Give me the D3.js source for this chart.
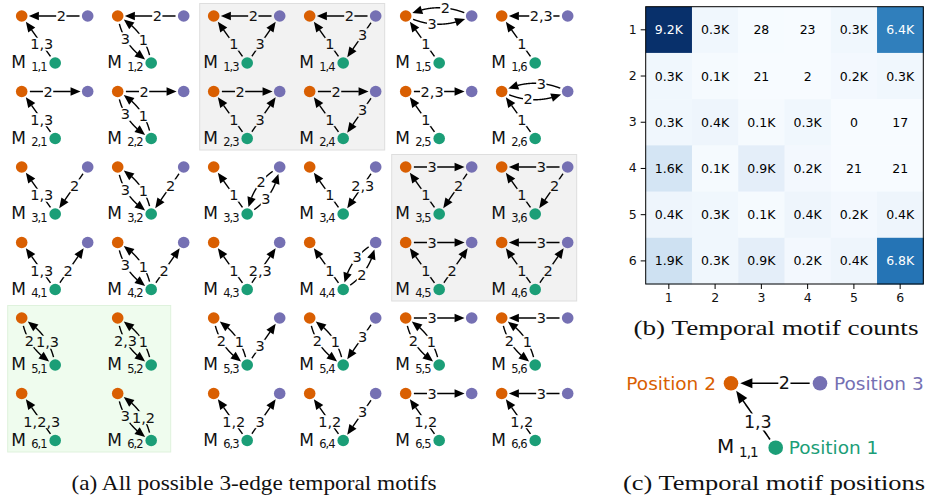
<!DOCTYPE html>
<html>
<head>
<meta charset="utf-8">
<script src="https://cdn.jsdelivr.net/npm/d3@7"></script>
<style>
  body { margin: 0; background: #fff; }
  svg { display: block; }
</style>
</head>
<body>
<svg id="fig" width="933" height="499"></svg>
<script>
/*
Motif grid data. Node 1 = green (bottom), 2 = orange (top left), 3 = purple (top right).
Each edge is [from, to, edge times].
*/
const motifRows = [1, 2, 3, 4, 5, 6];
const motifCols = [1, 2, 3, 4, 5, 6];
const motifEdges = [
  // row 1
  [[1, 2, "1,3"], [3, 2, "2"]],
  [[1, 2, "1"], [2, 1, "3"], [3, 2, "2"]],
  [[1, 2, "1"], [3, 2, "2"], [1, 3, "3"]],
  [[1, 2, "1"], [3, 2, "2"], [3, 1, "3"]],
  [[1, 2, "1"], [3, 2, "2"], [2, 3, "3"]],
  [[1, 2, "1"], [3, 2, "2,3"]],
  // row 2
  [[1, 2, "1,3"], [2, 3, "2"]],
  [[1, 2, "1"], [2, 1, "3"], [2, 3, "2"]],
  [[1, 2, "1"], [2, 3, "2"], [1, 3, "3"]],
  [[1, 2, "1"], [2, 3, "2"], [3, 1, "3"]],
  [[1, 2, "1"], [2, 3, "2,3"]],
  [[1, 2, "1"], [2, 3, "2"], [3, 2, "3"]],
  // row 3
  [[1, 2, "1,3"], [3, 1, "2"]],
  [[1, 2, "1"], [2, 1, "3"], [3, 1, "2"]],
  [[1, 2, "1"], [3, 1, "2"], [1, 3, "3"]],
  [[1, 2, "1"], [3, 1, "2,3"]],
  [[1, 2, "1"], [3, 1, "2"], [2, 3, "3"]],
  [[1, 2, "1"], [3, 1, "2"], [3, 2, "3"]],
  // row 4
  [[1, 2, "1,3"], [1, 3, "2"]],
  [[1, 2, "1"], [2, 1, "3"], [1, 3, "2"]],
  [[1, 2, "1"], [1, 3, "2,3"]],
  [[1, 2, "1"], [1, 3, "2"], [3, 1, "3"]],
  [[1, 2, "1"], [1, 3, "2"], [2, 3, "3"]],
  [[1, 2, "1"], [1, 3, "2"], [3, 2, "3"]],
  // row 5
  [[1, 2, "1,3"], [2, 1, "2"]],
  [[1, 2, "1"], [2, 1, "2,3"]],
  [[1, 2, "1"], [2, 1, "2"], [1, 3, "3"]],
  [[1, 2, "1"], [2, 1, "2"], [3, 1, "3"]],
  [[1, 2, "1"], [2, 1, "2"], [2, 3, "3"]],
  [[1, 2, "1"], [2, 1, "2"], [3, 2, "3"]],
  // row 6
  [[1, 2, "1,2,3"]],
  [[1, 2, "1,2"], [2, 1, "3"]],
  [[1, 2, "1,2"], [1, 3, "3"]],
  [[1, 2, "1,2"], [3, 1, "3"]],
  [[1, 2, "1,2"], [2, 3, "3"]],
  [[1, 2, "1,2"], [3, 2, "3"]]
];

// shaded blocks of the grid
const shadedGroups = [
  { rows: [1, 2], cols: [3, 4], kind: "gray" },
  { rows: [3, 4], cols: [5, 6], kind: "gray" },
  { rows: [5, 6], cols: [1, 2], kind: "green" }
];

// heatmap data
const heatRows = [1, 2, 3, 4, 5, 6];
const heatCols = [1, 2, 3, 4, 5, 6];
const motifCounts = [
  [9200, 300, 28, 23, 300, 6400],
  [300, 100, 21, 2, 200, 300],
  [300, 400, 100, 300, 0, 17],
  [1600, 100, 900, 200, 21, 21],
  [400, 300, 100, 400, 200, 400],
  [1900, 300, 900, 200, 400, 6800]
];

// position panel
const positionEdges = [[1, 2, "1,3"], [3, 2, "2"]];
const positionNames = ["Position 1", "Position 2", "Position 3"];

const captions = [
  "(a) All possible 3-edge temporal motifs",
  "(b) Temporal motif counts",
  "(c) Temporal motif positions"
];

/*
Styles
*/
var nodeColor = { 1: "#1b9e77", 2: "#d95f02", 3: "#7570b3" };
var panelFill = { gray: "#f2f2f2", green: "#effcee" };
var panelStroke = { gray: "#dedede", green: "#dff2dd" };
var sansFont = "DejaVu Sans, sans-serif";
var serifFont = "Liberation Serif, DejaVu Serif, serif";

var gridOpts = { dx: 66, gx: 33.5, gy: 47, r: 5.8, shrinkSrc: 8, shrinkTip: 7, headL: 10, headW: 4.3, font: 14.5, lw: 1.4, rad: 0.25 };
var bigOpts = { dx: 89, gx: 44.7, gy: 64.4, r: 7.3, shrinkSrc: 10, shrinkTip: 9, headL: 12, headW: 5, font: 17.5, lw: 1.6, rad: 0.3 };

const svg = d3.select("#fig");

/*
Draw one motif with orange node at (ox, oy)
*/
function drawMotif(g, ox, oy, edges, o, bg) {
  const pos = {
    1: [ox + o.gx, oy + o.gy],
    2: [ox, oy],
    3: [ox + o.dx, oy]
  };
  const used = new Set();
  edges.forEach((e) => { used.add(e[0]); used.add(e[1]); });

  const lineGen = d3.line();
  const edgeLayer = g.append("g");
  const labelLayer = g.append("g");

  edges.forEach((e) => {
    const p1 = pos[e[0]], p2 = pos[e[1]];
    const twoWay = edges.some((f) => f[0] === e[1] && f[1] === e[0]);
    const rad = twoWay ? o.rad : 0;
    const dx = p2[0] - p1[0], dy = p2[1] - p1[1];
    const c = [(p1[0] + p2[0]) / 2 - rad * dy, (p1[1] + p2[1]) / 2 + rad * dx];
    const B = (t) => [
      (1 - t) * (1 - t) * p1[0] + 2 * (1 - t) * t * c[0] + t * t * p2[0],
      (1 - t) * (1 - t) * p1[1] + 2 * (1 - t) * t * c[1] + t * t * p2[1]
    ];
    const pts = d3.range(0, 1.0001, 0.004).map(B);
    const dist = (a, b) => Math.hypot(a[0] - b[0], a[1] - b[1]);
    let i0 = pts.findIndex((p) => dist(p, p1) >= o.shrinkSrc);
    let i1 = pts.length - 1;
    while (i1 > 0 && dist(pts[i1], p2) < o.shrinkTip) i1--;
    const tip = pts[i1];
    let ib = i1;
    while (ib > i0 && dist(pts[ib], tip) < o.headL) ib--;
    const base = pts[ib];
    const L = dist(tip, base);
    const u = [(tip[0] - base[0]) / L, (tip[1] - base[1]) / L];
    const n = [-u[1], u[0]];

    edgeLayer.append("path")
      .attr("d", lineGen(pts.slice(i0, ib + 2)))
      .attr("fill", "none")
      .attr("stroke", "black")
      .attr("stroke-width", o.lw);

    edgeLayer.append("path")
      .attr("d", "M" + tip + "L" + [base[0] + n[0] * o.headW, base[1] + n[1] * o.headW] +
        "L" + [base[0] - n[0] * o.headW, base[1] - n[1] * o.headW] + "Z")
      .attr("fill", "black");

    // label sits closer to the source end
    const lp = B(0.4);
    const lg = labelLayer.append("g");
    const txt = lg.append("text")
      .attr("x", lp[0])
      .attr("y", lp[1])
      .attr("text-anchor", "middle")
      .attr("dominant-baseline", "central")
      .attr("font-family", sansFont)
      .attr("font-size", o.font)
      .attr("fill", "#111")
      .text(e[2]);
    const bb = txt.node().getBBox();
    lg.insert("rect", "text")
      .attr("x", bb.x - 0.5)
      .attr("y", bb.y + 1.5)
      .attr("width", bb.width + 1)
      .attr("height", bb.height - 3)
      .attr("fill", bg);
  });

  g.append("g")
    .selectAll("circle")
    .data([1, 2, 3].filter((k) => used.has(k)))
    .enter()
    .append("circle")
    .attr("cx", (k) => pos[k][0])
    .attr("cy", (k) => pos[k][1])
    .attr("r", o.r)
    .attr("fill", (k) => nodeColor[k]);

  return pos;
}

function motifLabel(g, x, y, sub, big, small, subDx, subDy) {
  g.append("text")
    .attr("x", x).attr("y", y)
    .attr("font-family", sansFont)
    .attr("font-size", big)
    .attr("fill", "#111")
    .text("M");
  g.append("text")
    .attr("x", x + subDx).attr("y", y + subDy)
    .attr("font-family", sansFont)
    .attr("font-size", small)
    .attr("letter-spacing", -0.9)
    .attr("fill", "#111")
    .text(sub);
}

/*
(a) motif grid
*/
const colX = d3.scaleLinear().domain([1, 6]).range([21.7, 501.7]);
const rowY = d3.scaleLinear().domain([1, 6]).range([16, 393.5]);

const gridG = svg.append("g");

shadedGroups.forEach((s) => {
  const x0 = colX(s.cols[0]) - 14;
  const x1 = colX(s.cols[1]) + (s.kind === "gray" ? 75 : 53);
  const y0 = rowY(s.rows[0]) - 12.5;
  const y1 = rowY(s.rows[1]) + 58.5;
  gridG.append("rect")
    .attr("x", x0).attr("y", y0)
    .attr("width", x1 - x0).attr("height", y1 - y0)
    .attr("fill", panelFill[s.kind])
    .attr("stroke", panelStroke[s.kind])
    .attr("stroke-width", 1);
});

function bgFor(row, col) {
  const s = shadedGroups.find((s) =>
    row >= s.rows[0] && row <= s.rows[1] && col >= s.cols[0] && col <= s.cols[1]);
  return s ? panelFill[s.kind] : "#ffffff";
}

motifRows.forEach((row, ri) => {
  motifCols.forEach((col, ci) => {
    const edges = motifEdges[ri * motifCols.length + ci];
    const ox = colX(col), oy = rowY(row);
    const mg = gridG.append("g");
    motifLabel(mg, ox - 10.5, oy + 52, row + "," + col, 17, 11.5, 20, 2.5);
    drawMotif(mg, ox, oy, edges, gridOpts, bgFor(row, col));
  });
});

/*
(b) heatmap of motif counts
*/
const hx = d3.scaleBand().domain(heatCols).range([645.7, 923.3]);
const hy = d3.scaleBand().domain(heatRows).range([6.7, 284]);
const maxCount = d3.max(motifCounts.flat());
const heatColor = d3.scaleSequential(d3.interpolateBlues).domain([0, maxCount]);
const fmtK = (v) => (v >= 100 ? d3.format(".1f")(v / 1000) + "K" : String(v));

const cells = [];
heatRows.forEach((r, i) => heatCols.forEach((c, j) => cells.push({ r: r, c: c, v: motifCounts[i][j] })));

const heatG = svg.append("g");
heatG.selectAll("rect.cell")
  .data(cells)
  .enter()
  .append("rect")
  .attr("class", "cell")
  .attr("x", (d) => hx(d.c))
  .attr("y", (d) => hy(d.r))
  .attr("width", hx.bandwidth() + 0.5)
  .attr("height", hy.bandwidth() + 0.5)
  .attr("fill", (d) => heatColor(d.v));

heatG.selectAll("text.val")
  .data(cells)
  .enter()
  .append("text")
  .attr("class", "val")
  .attr("x", (d) => hx(d.c) + hx.bandwidth() / 2)
  .attr("y", (d) => hy(d.r) + hy.bandwidth() / 2)
  .attr("text-anchor", "middle")
  .attr("dominant-baseline", "central")
  .attr("font-family", sansFont)
  .attr("font-size", 12.5)
  .attr("fill", (d) => (d.v > maxCount * 0.5 ? "white" : "black"))
  .text((d) => fmtK(d.v));

heatG.append("rect")
  .attr("x", hx.range()[0]).attr("y", hy.range()[0])
  .attr("width", hx.range()[1] - hx.range()[0])
  .attr("height", hy.range()[1] - hy.range()[0])
  .attr("fill", "none")
  .attr("stroke", "black")
  .attr("stroke-width", 1);

const yAxisG = heatG.append("g")
  .attr("transform", "translate(" + hx.range()[0] + ",0)")
  .call(d3.axisLeft(hy).tickSize(5).tickPadding(4));
const xAxisG = heatG.append("g")
  .attr("transform", "translate(0," + hy.range()[1] + ")")
  .call(d3.axisBottom(hx).tickSize(5).tickPadding(4));
[yAxisG, xAxisG].forEach((a) => {
  a.select(".domain").remove();
  a.selectAll("text").attr("font-family", sansFont).attr("font-size", 12.5).attr("fill", "#111");
  a.selectAll("line").attr("stroke", "black");
});

/*
(c) motif positions
*/
const posG = svg.append("g");
const pp = drawMotif(posG, 731, 383.3, positionEdges, bigOpts, "#ffffff");
motifLabel(posG, 717, 453, "1,1", 20, 13.5, 22, 3.5);

posG.append("text")
  .attr("x", pp[2][0] - 15).attr("y", pp[2][1])
  .attr("text-anchor", "end").attr("dominant-baseline", "central")
  .attr("font-family", sansFont).attr("font-size", 18.5)
  .attr("fill", nodeColor[2])
  .text(positionNames[1]);
posG.append("text")
  .attr("x", pp[3][0] + 14).attr("y", pp[3][1])
  .attr("dominant-baseline", "central")
  .attr("font-family", sansFont).attr("font-size", 18.5)
  .attr("fill", nodeColor[3])
  .text(positionNames[2]);
posG.append("text")
  .attr("x", pp[1][0] + 13).attr("y", pp[1][1])
  .attr("dominant-baseline", "central")
  .attr("font-family", sansFont).attr("font-size", 18.5)
  .attr("fill", nodeColor[1])
  .text(positionNames[0]);

/*
Captions
*/
const capSpec = [
  { x: 254, y: 490, w: 365 },
  { x: 776, y: 335, w: 285 },
  { x: 774, y: 490, w: 302 }
];
captions.forEach((c, i) => {
  svg.append("text")
    .attr("x", capSpec[i].x)
    .attr("y", capSpec[i].y)
    .attr("text-anchor", "middle")
    .attr("font-family", serifFont)
    .attr("font-size", 21)
    .attr("textLength", capSpec[i].w)
    .attr("lengthAdjust", "spacingAndGlyphs")
    .attr("fill", "#111")
    .text(c);
});
</script>
</body>
</html>
